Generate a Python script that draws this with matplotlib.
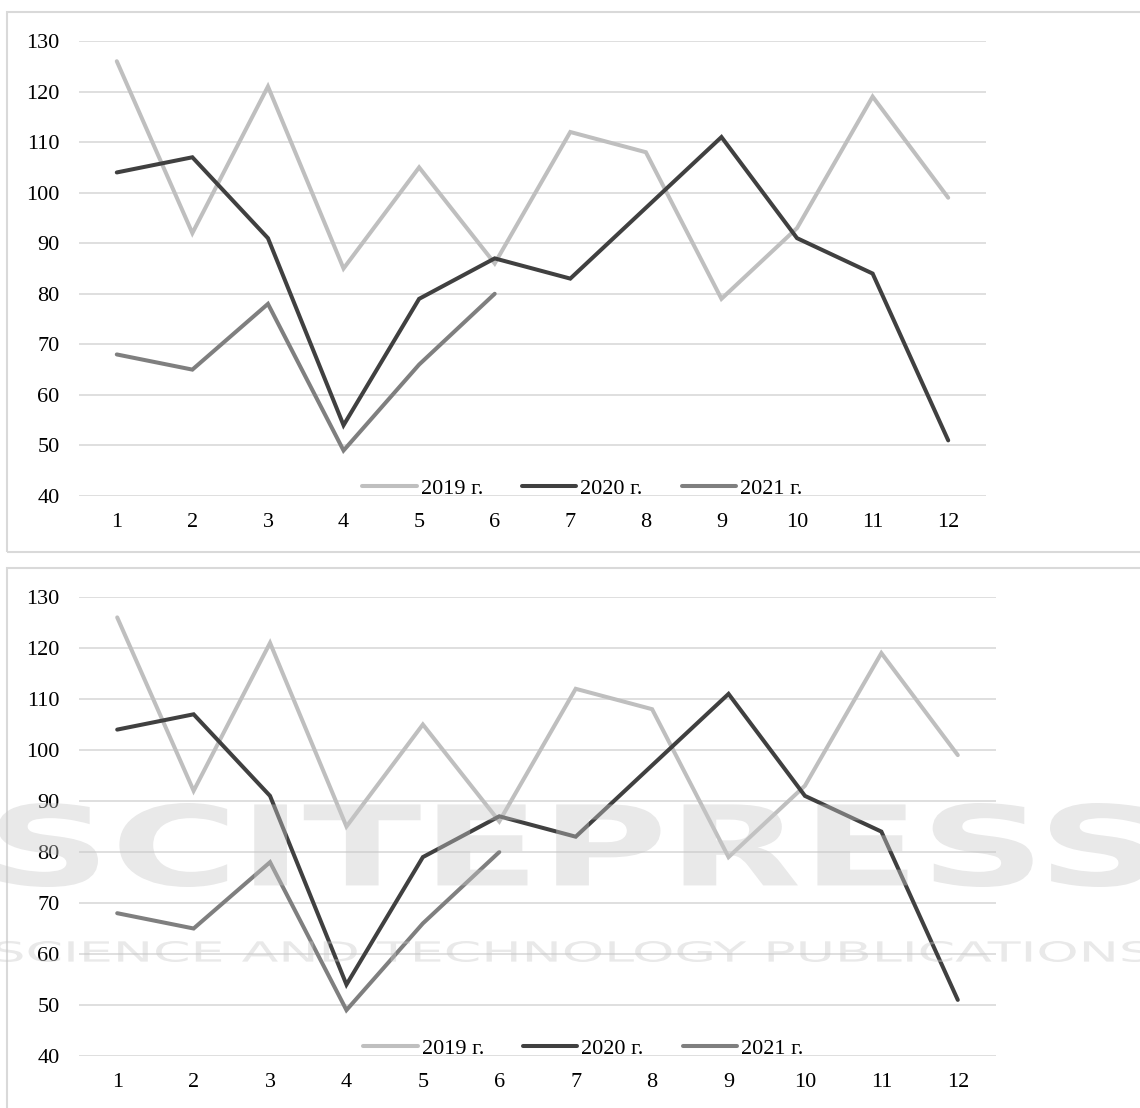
import numpy as np
import matplotlib.pyplot as plt
from matplotlib.patches import Rectangle, PathPatch
from matplotlib.textpath import TextPath
from matplotlib.font_manager import FontProperties
from matplotlib.transforms import Affine2D

# monthly values
months = list(range(1, 13))
vals_2019 = [126, 92, 121, 85, 105, 86, 112, 108, 79, 93, 119, 99]
vals_2020 = [104, 107, 91, 54, 79, 87, 83, 97, 111, 91, 84, 51]
vals_2021 = [68, 65, 78, 49, 66, 80]
series_names = ['2019 г.', '2020 г.', '2021 г.']
series_colors = ['#BFBFBF', '#404040', '#7F7F7F']
y_ticks = [40, 50, 60, 70, 80, 90, 100, 110, 120, 130]

W, H = 1140, 1108
plt.rcParams['font.family'] = ['Liberation Serif', 'DejaVu Serif']

fig = plt.figure(figsize=(W / 100, H / 100), dpi=100)


def px_rect(x0, y0, x1, y1):
    # pixel box (top-left origin) -> figure fraction [l, b, w, h]
    return [x0 / W, (H - y1) / H, (x1 - x0) / W, (y1 - y0) / H]


def draw_panel(box, legend_x):
    ax = fig.add_axes(px_rect(*box))
    series = [vals_2019, vals_2020, vals_2021]
    for name, vals, col in zip(series_names, series, series_colors):
        ax.plot(months[:len(vals)], vals, color=col, lw=2.9,
                solid_joinstyle='miter', solid_capstyle='round', label=name)
    ax.set_xlim(0.5, 12.5)
    ax.set_ylim(40, 130)
    ax.set_yticks(y_ticks)
    ax.set_xticks(months)
    ax.grid(axis='y', color='#D9D9D9', lw=1.2)
    ax.set_axisbelow(True)
    for s in ax.spines.values():
        s.set_visible(False)
    ax.tick_params(axis='y', length=0, pad=14, labelsize=16)
    ax.tick_params(axis='x', length=0, pad=12, labelsize=16)
    ax.legend(loc='center', bbox_to_anchor=(legend_x, 0.016), ncol=3,
              frameon=False, fontsize=16, handlelength=2.45,
              handletextpad=0.18, columnspacing=1.75, borderpad=0)
    return ax


draw_panel((79, 41, 986, 496), 0.555)
draw_panel((79, 597, 996, 1056), 0.55)

# light frames around both panels
for y0, y1 in [(12, 552), (568, 1120)]:
    fig.patches.append(Rectangle((7 / W, (H - y1) / H), (W + 20) / W, (y1 - y0) / H,
                                 transform=fig.transFigure, fill=False,
                                 edgecolor='#D9D9D9', lw=1.5))


def stamp(text, x0, y0, x1, y1, weight='bold'):
    # fit a text outline into a pixel box
    tp = TextPath((0, 0), text, size=100, prop=FontProperties(family='DejaVu Sans', weight=weight))
    bb = tp.get_extents()
    sx = (x1 - x0) / bb.width
    sy = (y1 - y0) / bb.height
    tr = Affine2D().translate(-bb.x0, -bb.y0).scale(sx / W, sy / H).translate(x0 / W, (H - y1) / H)
    fig.patches.append(PathPatch(tr.transform_path(tp), transform=fig.transFigure,
                                 facecolor='#C8C8C8', edgecolor='none', alpha=0.4, zorder=10))


stamp('SCITEPRESS', -2, 803, 1150, 887)
stamp('SCIENCE AND TECHNOLOGY PUBLICATIONS', -5, 941, 1150, 962, weight='normal')

fig.savefig('out.png', dpi=100)
